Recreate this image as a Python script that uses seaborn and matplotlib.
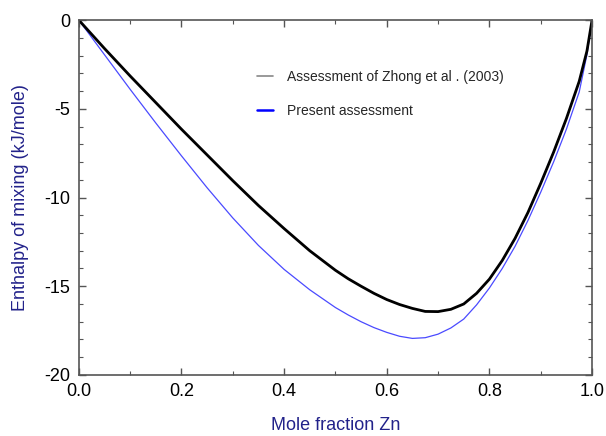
import matplotlib
matplotlib.use("Agg")
import matplotlib.pyplot as plt
import seaborn as sns
import pandas as pd
from matplotlib.lines import Line2D
from matplotlib.ticker import MultipleLocator, FormatStrFormatter

# Assessment of Zhong et al. (2003)
x_zhong = [0.0, 0.05, 0.10, 0.15, 0.20, 0.25, 0.30, 0.35, 0.40, 0.45, 0.50, 0.525,
           0.55, 0.575, 0.60, 0.625, 0.65, 0.675, 0.70, 0.725, 0.75, 0.775, 0.80,
           0.825, 0.85, 0.875, 0.90, 0.925, 0.95, 0.975, 0.99, 1.0]
h_zhong = [0.0, -1.6, -3.15, -4.65, -6.15, -7.6, -9.05, -10.45, -11.75, -13.0, -14.1, -14.58,
           -15.0, -15.4, -15.75, -16.03, -16.25, -16.42, -16.43, -16.3, -16.0, -15.4, -14.6,
           -13.55, -12.3, -10.85, -9.2, -7.45, -5.55, -3.45, -1.75, 0.0]

# Present assessment
x_present = [0.0, 0.05, 0.10, 0.15, 0.20, 0.25, 0.30, 0.35, 0.40, 0.45, 0.50, 0.525,
             0.55, 0.575, 0.60, 0.625, 0.65, 0.675, 0.70, 0.725, 0.75, 0.775, 0.80,
             0.825, 0.85, 0.875, 0.90, 0.925, 0.95, 0.975, 0.99, 1.0]
h_present = [0.0, -1.95, -3.9, -5.8, -7.65, -9.45, -11.15, -12.7, -14.05, -15.2, -16.2, -16.62,
             -17.0, -17.33, -17.6, -17.82, -17.94, -17.9, -17.7, -17.35, -16.85, -16.05, -15.1,
             -14.0, -12.75, -11.3, -9.7, -8.0, -6.15, -4.05, -1.95, 0.0]

labels = ["Assessment of Zhong et al . (2003)", "Present assessment"]

sns.set_theme(style="white")
plt.rcParams['font.family'] = ['Liberation Sans', 'DejaVu Sans']

df_z = pd.DataFrame({"x": x_zhong, "h": h_zhong})
df_p = pd.DataFrame({"x": x_present, "h": h_present})

fig = plt.figure(figsize=(6.06, 4.36), dpi=100)
ax = fig.add_axes([0.130, 0.140, 0.847, 0.814])

sns.lineplot(data=df_p, x="x", y="h", ax=ax, color="#4a4aff", linewidth=0.9, sort=False)
sns.lineplot(data=df_z, x="x", y="h", ax=ax, color="black", linewidth=2.0, sort=False)
for ln in ax.lines:
    ln.set_solid_joinstyle('round')

ax.set_xlim(0, 1)
ax.set_ylim(-20, 0)
ax.xaxis.set_major_locator(MultipleLocator(0.2))
ax.xaxis.set_minor_locator(MultipleLocator(0.1))
ax.yaxis.set_major_locator(MultipleLocator(5))
ax.yaxis.set_minor_locator(MultipleLocator(1))
ax.xaxis.set_major_formatter(FormatStrFormatter('%.1f'))
ax.yaxis.set_major_formatter(FormatStrFormatter('%d'))

ax.tick_params(which='both', direction='in', top=True, right=True, bottom=True, left=True,
               color='#555555', labelsize=13, labelcolor='black')
ax.tick_params(which='major', length=5, width=1.0, pad=6)
ax.tick_params(which='minor', length=3, width=0.8)
ax.tick_params(axis='x', labeltop=False)
ax.tick_params(axis='y', labelright=False)

for s in ax.spines.values():
    s.set_color('#555555')
    s.set_linewidth(1.2)

ax.set_xlabel("Mole fraction Zn", fontsize=13, color='#22228a', labelpad=12)
ax.set_ylabel("Enthalpy of mixing (kJ/mole)", fontsize=13, color='#22228a', labelpad=11)

handles = [Line2D([], [], color='#888888', linewidth=1.2),
           Line2D([], [], color='#0000ff', linewidth=1.8)]
ax.legend(handles, labels, loc='upper left', bbox_to_anchor=(0.333, 0.88), frameon=False,
          fontsize=10, handlelength=1.2, handletextpad=1.0, labelspacing=1.45, borderpad=0)

fig.savefig("out.png", dpi=100)
